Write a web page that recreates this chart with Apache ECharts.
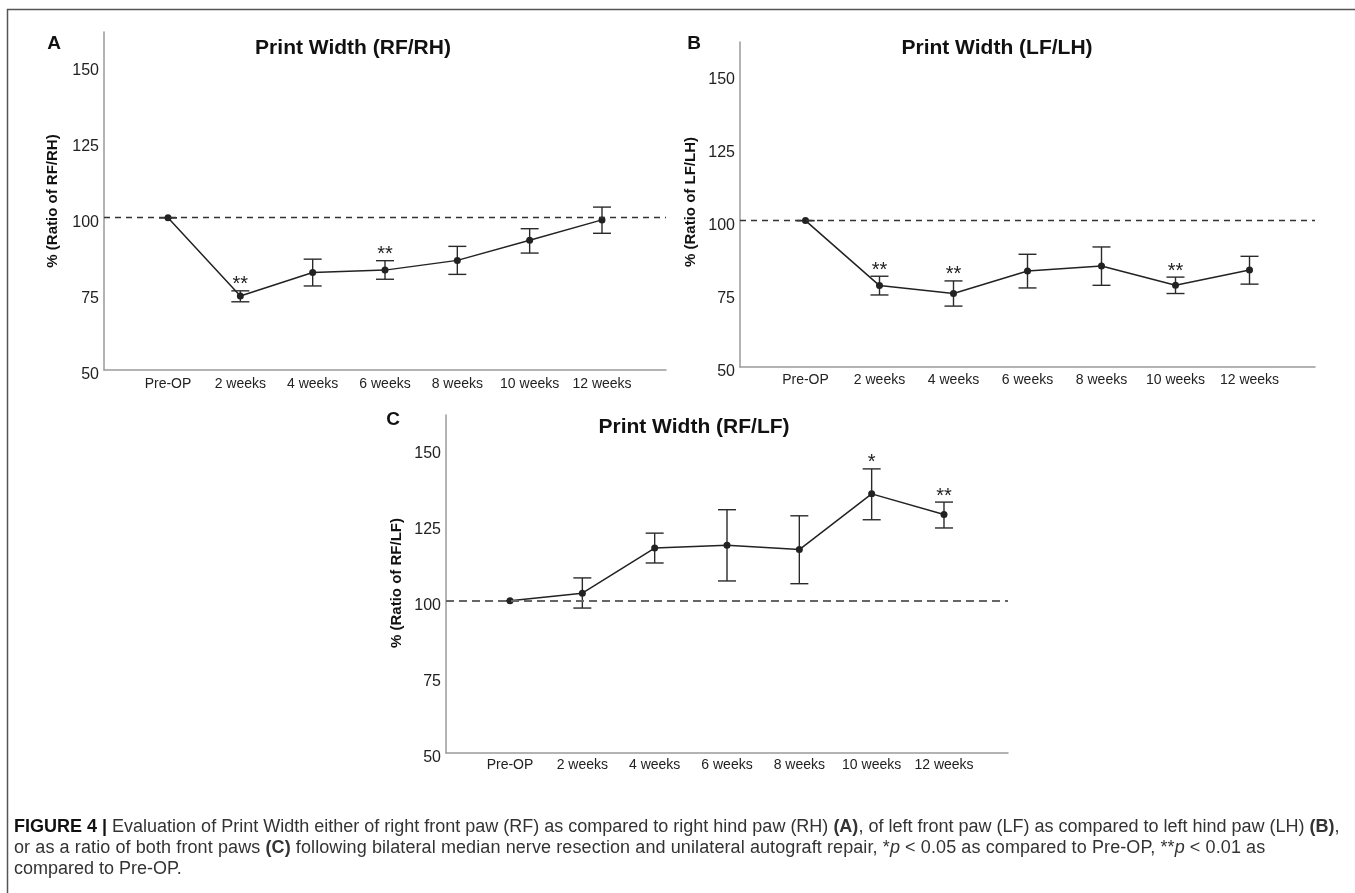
<!DOCTYPE html>
<html>
<head>
<meta charset="utf-8">
<script src="https://cdn.jsdelivr.net/npm/echarts@6/dist/echarts.min.js"></script>
<style>
  html, body { margin: 0; padding: 0; background: #fff; }
  #chart { position: absolute; left: 0; top: 0; width: 1355px; height: 893px; }
  #caption {
    position: absolute; left: 14px; top: 816px;
    font-family: "Liberation Sans", Arial, sans-serif;
    font-size: 18px; line-height: 21px; color: #333; white-space: nowrap;
  }
  #caption b.fig { color: #111; }
  #caption .l2 { letter-spacing: 0.1px; }
</style>
</head>
<body>
<div id="chart"></div>
<div id="caption"><b class="fig">FIGURE 4 |</b> Evaluation of Print Width either of right front paw (RF) as compared to right hind paw (RH) <b>(A)</b>, of left front paw (LF) as compared to left hind paw (LH) <b>(B)</b>,<br><span class="l2">or as a ratio of both front paws <b>(C)</b> following bilateral median nerve resection and unilateral autograft repair, *<i>p</i> &lt; 0.05 as compared to Pre-OP, **<i>p</i> &lt; 0.01 as</span><br>compared to Pre-OP.</div>
<script>
// Time points shared by all three panels
const categories = ['Pre-OP', '2 weeks', '4 weeks', '6 weeks', '8 weeks', '10 weeks', '12 weeks'];
const yTicks = [50, 75, 100, 125, 150];

// Panel A: Print Width RF/RH (%), mean with error-bar limits
const meanA = [100, 74.3, 82.0, 82.8, 86.0, 92.6, 99.3];
const lowA  = [100, 72.4, 77.6, 79.8, 81.4, 88.4, 94.9];
const highA = [100, 76.0, 86.4, 85.9, 90.6, 96.4, 103.5];
const sigA  = ['', '**', '', '**', '', '', ''];

// Panel B: Print Width LF/LH (%)
const meanB = [100, 77.8, 75.1, 82.8, 84.5, 77.9, 83.1];
const lowB  = [100, 74.6, 70.8, 77.0, 77.9, 75.1, 78.3];
const highB = [100, 81.0, 79.4, 88.5, 91.0, 80.7, 87.8];
const sigB  = ['', '**', '**', '', '', '**', ''];

// Panel C: Print Width RF/LF (%)
const meanC = [100, 102.5, 117.3, 118.2, 116.8, 135.1, 128.3];
const lowC  = [100, 97.6, 112.4, 106.5, 105.6, 126.6, 123.9];
const highC = [100, 107.5, 122.2, 129.9, 127.9, 143.3, 132.4];
const sigC  = ['', '', '', '', '', '*', '**'];

const baseline = 100;

const FONT = '"Liberation Sans", Arial, sans-serif';
const INK = '#222';

const chart = echarts.init(document.getElementById('chart'), null, { renderer: 'canvas' });

function xAxisFor(gridIndex, labelMargin) {
  return {
    type: 'value', gridIndex: gridIndex, min: -0.885, max: 6.885,
    axisLine: { show: true, onZero: false, lineStyle: { color: '#9a9a9a', width: 1.5 } },
    axisTick: { show: false },
    splitLine: { show: false },
    axisLabel: {
      customValues: categories.map((c, i) => i),
      formatter: v => categories[Math.round(v)] || '',
      margin: labelMargin, color: INK, fontSize: 14, fontFamily: FONT
    }
  };
}

function yAxisFor(gridIndex) {
  return {
    type: 'value', gridIndex: gridIndex, min: 50, max: 161,
    axisLine: { show: true, onZero: false, lineStyle: { color: '#9a9a9a', width: 1.5 } },
    axisTick: { show: false },
    splitLine: { show: false },
    axisLabel: {
      customValues: yTicks,
      formatter: v => '{t|' + v + '}',
      margin: 5,
      rich: { t: { color: INK, fontSize: 16, fontFamily: FONT, padding: [10, 0, 0, 0] } }
    }
  };
}

function errorBars(idx, low, high, sig) {
  return {
    type: 'custom', xAxisIndex: idx, yAxisIndex: idx, z: 3,
    data: categories.map((c, i) => [i, low[i], high[i]]),
    renderItem: function (params, api) {
      const i = api.value(0);
      const lo = api.coord([i, api.value(1)]);
      const hi = api.coord([i, api.value(2)]);
      const w = 9;
      const st = { stroke: '#2a2a2a', lineWidth: 1.4 };
      const children = [
        { type: 'line', shape: { x1: lo[0], y1: lo[1], x2: hi[0], y2: hi[1] }, style: st },
        { type: 'line', shape: { x1: hi[0] - w, y1: hi[1], x2: hi[0] + w, y2: hi[1] }, style: st },
        { type: 'line', shape: { x1: lo[0] - w, y1: lo[1], x2: lo[0] + w, y2: lo[1] }, style: st }
      ];
      if (sig[i]) {
        children.push({
          type: 'text', x: hi[0], y: hi[1] - 6,
          style: { text: sig[i], fill: INK, font: '20px ' + FONT, textAlign: 'center', textVerticalAlign: 'middle' }
        });
      }
      return { type: 'group', children: children };
    }
  };
}

function meanLine(idx, mean, dash, dashColor, dashWidth) {
  return {
    type: 'line', xAxisIndex: idx, yAxisIndex: idx, z: 4,
    data: mean.map((v, i) => [i, v]),
    symbol: 'circle', symbolSize: 7,
    itemStyle: { color: INK },
    lineStyle: { color: INK, width: 1.5 },
    animation: false,
    markLine: {
      silent: true, symbol: 'none', label: { show: false },
      lineStyle: { type: dash, color: dashColor, width: dashWidth },
      data: [{ yAxis: baseline }]
    }
  };
}

function txt(x, y, text, font, rotation) {
  return {
    type: 'text', x: x, y: y, rotation: rotation || 0,
    style: { text: text, font: font, fill: '#111', textAlign: 'center', textVerticalAlign: 'middle' }
  };
}

const option = {
  backgroundColor: '#fff',
  animation: false,
  grid: [
    { left: 104, top: 32, width: 562, height: 338 },
    { left: 740, top: 42, width: 575, height: 325 },
    { left: 446, top: 415, width: 562, height: 338 }
  ],
  xAxis: [xAxisFor(0, 7), xAxisFor(1, 6), xAxisFor(2, 5)],
  yAxis: [yAxisFor(0), yAxisFor(1), yAxisFor(2)],
  series: [
    errorBars(0, lowA, highA, sigA), meanLine(0, meanA, [6, 5], '#333', 1.3),
    errorBars(1, lowB, highB, sigB), meanLine(1, meanB, [6, 5], '#333', 1.3),
    errorBars(2, lowC, highC, sigC), meanLine(2, meanC, [8, 5], '#666', 1.8)
  ],
  graphic: [
    // figure frame
    { type: 'line', shape: { x1: 7, y1: 9.5, x2: 1355, y2: 9.5 }, style: { stroke: '#555', lineWidth: 1.5 } },
    { type: 'line', shape: { x1: 7.5, y1: 9, x2: 7.5, y2: 893 }, style: { stroke: '#555', lineWidth: 1.5 } },
    // panel letters
    txt(54, 44, 'A', 'bold 19px ' + FONT),
    txt(694, 44, 'B', 'bold 19px ' + FONT),
    txt(393, 420, 'C', 'bold 19px ' + FONT),
    // panel titles
    txt(353, 48, 'Print Width (RF/RH)', 'bold 21px ' + FONT),
    txt(997, 48, 'Print Width (LF/LH)', 'bold 21px ' + FONT),
    txt(694, 427, 'Print Width (RF/LF)', 'bold 21px ' + FONT),
    // y-axis names
    txt(53, 201, '% (Ratio of RF/RH)', 'bold 15px ' + FONT, Math.PI / 2),
    txt(691, 202, '% (Ratio of LF/LH)', 'bold 15px ' + FONT, Math.PI / 2),
    txt(397, 583, '% (Ratio of RF/LF)', 'bold 15px ' + FONT, Math.PI / 2)
  ]
};

chart.setOption(option);
</script>
</body>
</html>
